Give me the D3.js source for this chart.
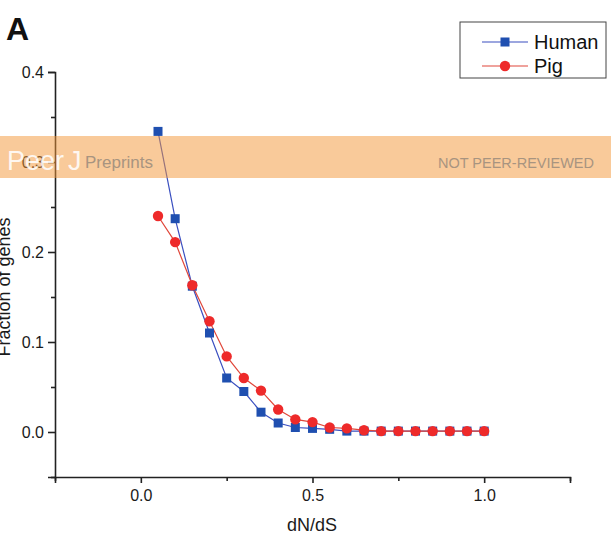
<!DOCTYPE html>
<html>
<head>
<meta charset="utf-8">
<script src="https://cdn.jsdelivr.net/npm/d3@7"></script>
<style>
  body { margin: 0; background: #fff; }
  svg { display: block; font-family: "Liberation Sans", Arial, sans-serif; }
</style>
</head>
<body>
<svg id="chart" width="611" height="538"></svg>
<script>
// dN/dS bins
var ratios = [0.05, 0.1, 0.15, 0.2, 0.25, 0.3, 0.35, 0.4, 0.45, 0.5,
              0.55, 0.6, 0.65, 0.7, 0.75, 0.8, 0.85, 0.9, 0.95, 1.0];
var human = [0.334, 0.237, 0.162, 0.110, 0.060, 0.045, 0.022, 0.010, 0.005, 0.004,
             0.003, 0.001, 0.001, 0.001, 0.001, 0.001, 0.001, 0.001, 0.001, 0.001];
var pig = [0.240, 0.211, 0.163, 0.123, 0.084, 0.060, 0.046, 0.025, 0.014, 0.011,
           0.005, 0.004, 0.002, 0.001, 0.001, 0.001, 0.001, 0.001, 0.001, 0.001];
var xTicks = [0, 0.5, 1.0];
var yTicks = [0, 0.1, 0.2, 0.3, 0.4];

const svg = d3.select('svg#chart')

const x = d3.scaleLinear().domain([-0.25, 1.25]).range([55, 570])
const y = d3.scaleLinear().domain([-0.05, 0.4]).range([477, 72])

// axes
svg.append('g')
  .attr('transform', 'translate(0,477)')
  .call(d3.axisBottom(x).tickValues(xTicks).tickFormat(d3.format('.1f')).tickSize(6).tickPadding(7))
  .call(g => g.selectAll('.tick text').style('font-size', '16px').attr('fill', '#1a1a1a'))

svg.append('g')
  .attr('transform', 'translate(0,477)')
  .call(d3.axisBottom(x).tickValues([-0.25, 0.25, 0.75, 1.25]).tickFormat('').tickSize(4))
  .call(g => g.select('.domain').remove())

svg.append('g')
  .attr('transform', 'translate(55,0)')
  .call(d3.axisLeft(y).tickValues(yTicks).tickFormat(d3.format('.1f')).tickSize(7).tickPadding(4))
  .call(g => g.selectAll('.tick text').style('font-size', '16px').attr('fill', '#1a1a1a'))

svg.append('g')
  .attr('transform', 'translate(55,0)')
  .call(d3.axisLeft(y).tickValues([-0.05, 0.05, 0.15, 0.25, 0.35]).tickFormat('').tickSize(4))
  .call(g => g.select('.domain').remove())

svg.selectAll('.domain, .tick line').attr('stroke', '#222').attr('stroke-width', 1.6)

// series
const line = d3.line().x((d, i) => x(ratios[i])).y(d => y(d))

svg.append('path').datum(human)
  .attr('d', line).attr('fill', 'none').attr('stroke', '#3a4fc0').attr('stroke-width', 1.2)
svg.append('path').datum(pig)
  .attr('d', line).attr('fill', 'none').attr('stroke', '#e0473a').attr('stroke-width', 1.2)

svg.selectAll('rect.human').data(human).enter().append('rect')
  .attr('class', 'human')
  .attr('x', (d, i) => x(ratios[i]) - 4.5)
  .attr('y', d => y(d) - 4.5)
  .attr('width', 9).attr('height', 9)
  .attr('fill', '#1f4fb0')

svg.selectAll('circle.pig').data(pig).enter().append('circle')
  .attr('class', 'pig')
  .attr('cx', (d, i) => x(ratios[i]))
  .attr('cy', d => y(d))
  .attr('r', 5.2)
  .attr('fill', '#ee2a2a')

// labels
svg.append('text').attr('x', 312).attr('y', 531).attr('text-anchor', 'middle')
  .style('font-size', '18px').attr('fill', '#1a1a1a').text('dN/dS')
// y title is clipped by the left edge in the original figure
svg.append('text').attr('transform', 'translate(10,287) rotate(-90)').attr('text-anchor', 'middle')
  .style('font-size', '18px').attr('fill', '#1a1a1a').text('Fraction of genes')
svg.append('text').attr('x', 6).attr('y', 40)
  .style('font-size', '32px').style('font-weight', 'bold').attr('fill', '#111').text('A')

// legend
const legend = svg.append('g')
legend.append('rect').attr('x', 460).attr('y', 22).attr('width', 146).attr('height', 56)
  .attr('fill', '#fff').attr('stroke', '#444').attr('stroke-width', 1)
legend.append('line').attr('x1', 482).attr('x2', 528).attr('y1', 42).attr('y2', 42)
  .attr('stroke', '#3a4fc0').attr('stroke-width', 1.2)
legend.append('rect').attr('x', 500.5).attr('y', 37.5).attr('width', 9).attr('height', 9).attr('fill', '#1f4fb0')
legend.append('line').attr('x1', 482).attr('x2', 528).attr('y1', 66).attr('y2', 66)
  .attr('stroke', '#e0473a').attr('stroke-width', 1.2)
legend.append('circle').attr('cx', 505).attr('cy', 66).attr('r', 5.2).attr('fill', '#ee2a2a')
legend.append('text').attr('x', 534).attr('y', 49).style('font-size', '20px').attr('fill', '#111').text('Human')
legend.append('text').attr('x', 534).attr('y', 73).style('font-size', '20px').attr('fill', '#111').text('Pig')

// watermark band
svg.append('rect').attr('x', 0).attr('y', 136).attr('width', 611).attr('height', 42)
  .attr('fill', '#f39636').attr('opacity', 0.5)
svg.append('text').attr('x', 7).attr('y', 170).style('font-size', '27px')
  .attr('fill', '#fff').attr('opacity', 0.85).text('Peer')
svg.append('text').attr('x', 68).attr('y', 170).style('font-size', '27px').style('font-weight', '300')
  .attr('fill', '#fff').attr('opacity', 0.85).text('J')
svg.append('text').attr('x', 85).attr('y', 168).style('font-size', '17px')
  .attr('fill', '#a89480').text('Preprints')
svg.append('text').attr('x', 594).attr('y', 168).attr('text-anchor', 'end').style('font-size', '14.5px')
  .attr('fill', '#a89480').text('NOT PEER-REVIEWED')
</script>
</body>
</html>
